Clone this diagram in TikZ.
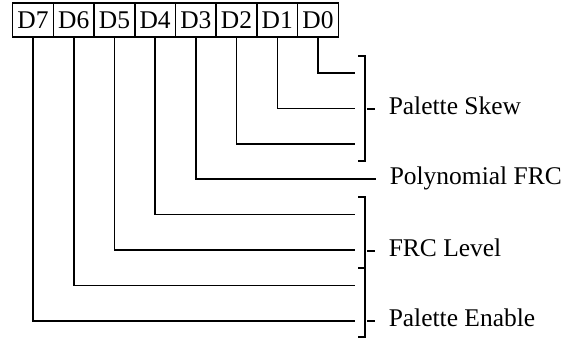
\documentclass[tikz,border=0pt]{standalone}
\usepackage{fontspec}
\setmainfont{Liberation Serif}
\begin{document}
\begin{tikzpicture}[x=0.02cm, y=-0.02cm, line width=0.3mm,
    bitbox/.style={draw, black, minimum width=0.814cm, minimum height=0.68cm, inner sep=0pt,
        font=\fontsize{14.5}{17}\selectfont},
    fieldlabel/.style={anchor=west, inner xsep=7.4pt, inner ysep=0pt, text height=0.66em, text depth=0pt,
        font=\fontsize{14.5}{17}\selectfont}]
    \useasboundingbox (0,0) rectangle (575,341);
    % register bits
    \foreach \i in {0,...,7}{
        \pgfmathtruncatemacro{\b}{7-\i}
        \node[bitbox] (d\b) at (33.05+40.7*\i,20) {D\b};
    }
    % field names
    \node[fieldlabel] (skew) at (375,109) {Palette Skew};
    \node[fieldlabel] (poly) at (376,179) {Polynomial FRC};
    \node[fieldlabel] (level) at (375,251) {FRC Level};
    \node[fieldlabel] (enable) at (375,321) {Palette Enable};
    % bit lines
    \foreach \b in {0,1,2,4,5,6,7}{
        \coordinate (e\b) at (355,73+35.43*\b);
        \draw[black] (d\b.south) |- (e\b);
    }
    \draw[black] (d3.south) |- (poly.west);
    % brackets
    \draw[black] (358,56) -- (365,56) -- (365,161) -- (358,161);
    \draw[black] (358,197) -- (365,197) -- (365,337) -- (358,337);
    \draw[black] (358,268) -- (365,268);
    \draw[black] (367,109) -- (skew.west);
    \draw[black] (367,251) -- (level.west);
    \draw[black] (367,321) -- (enable.west);
\end{tikzpicture}
\end{document}
